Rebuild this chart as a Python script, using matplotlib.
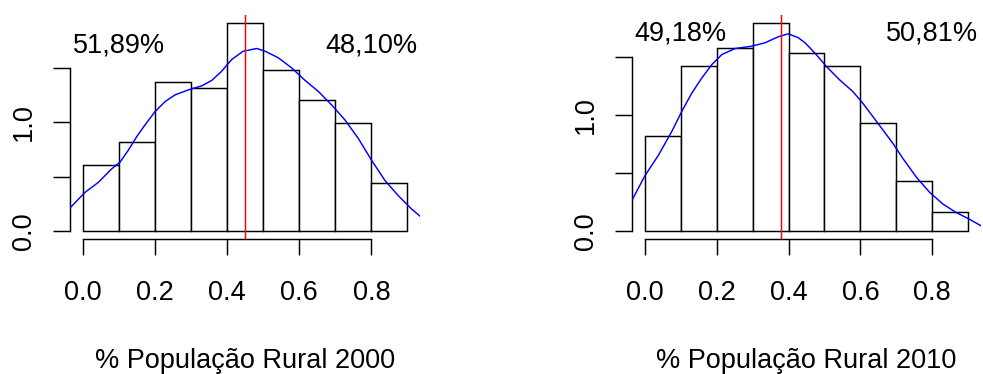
import matplotlib
matplotlib.use("Agg")
import matplotlib.pyplot as plt
import numpy as np

plt.rcParams['font.family'] = ['Liberation Sans', 'DejaVu Sans']

# ---- data ----
bin_edges = [0.0, 0.1, 0.2, 0.3, 0.4, 0.5, 0.6, 0.7, 0.8, 0.9]
dens_2000 = [0.608, 0.821, 1.370, 1.315, 1.910, 1.481, 1.204, 0.988, 0.441]
dens_2010 = [0.817, 1.423, 1.577, 1.794, 1.536, 1.423, 0.928, 0.432, 0.168]

kde_x_2000 = [-0.036, 0.005, 0.042, 0.079, 0.102, 0.125, 0.148, 0.171, 0.199, 0.227,
              0.255, 0.292, 0.329, 0.357, 0.384, 0.412, 0.444, 0.482, 0.505, 0.542,
              0.579, 0.616, 0.653, 0.690, 0.727, 0.764, 0.801, 0.838, 0.875, 0.912,
              0.940]
kde_y_2000 = [0.215, 0.355, 0.447, 0.571, 0.632, 0.741, 0.864, 0.972, 1.095, 1.188,
              1.250, 1.296, 1.333, 1.383, 1.466, 1.574, 1.651, 1.676, 1.651, 1.590,
              1.497, 1.383, 1.281, 1.157, 1.019, 0.849, 0.648, 0.463, 0.324, 0.201,
              0.123]

kde_x_2010 = [-0.037, 0.0, 0.037, 0.074, 0.102, 0.130, 0.158, 0.186, 0.214, 0.251,
              0.297, 0.334, 0.371, 0.399, 0.427, 0.446, 0.477, 0.505, 0.542, 0.579,
              0.607, 0.635, 0.663, 0.691, 0.719, 0.756, 0.793, 0.830, 0.867, 0.904,
              0.937]
kde_y_2010 = [0.261, 0.478, 0.652, 0.855, 1.029, 1.188, 1.319, 1.435, 1.522, 1.574,
              1.594, 1.623, 1.675, 1.701, 1.667, 1.623, 1.522, 1.420, 1.304, 1.203,
              1.101, 0.986, 0.870, 0.754, 0.623, 0.464, 0.333, 0.232, 0.159, 0.101,
              0.043]

median_2000 = 0.449
median_2010 = 0.378
left_pct = ["51,89%", "49,18%"]
right_pct = ["48,10%", "50,81%"]
xlabels = ["% População Rural 2000", "% População Rural 2010"]
xticks = [0.0, 0.2, 0.4, 0.6, 0.8]
xticklabels = ["0.0", "0.2", "0.4", "0.6", "0.8"]
yticks = [0.0, 0.5, 1.0, 1.5]
yticklabels = ["0.0", "", "1.0", ""]

FS = 19.5
LW = 1.05

fig = plt.figure(figsize=(9.83, 3.74), dpi=100)
ax1 = fig.add_axes([70.3 / 983, (374 - 239.3) / 374, 350 / 983, 224.6 / 374])
ax2 = fig.add_axes([632.1 / 983, (374 - 239.3) / 374, 348.9 / 983, 224.6 / 374])

panels = [
    (ax1, dens_2000, kde_x_2000, kde_y_2000, median_2000, 0),
    (ax2, dens_2010, kde_x_2010, kde_y_2010, median_2010, 1),
]

for ax, dens, kx, ky, med, i in panels:
    widths = np.diff(bin_edges)
    ax.bar(bin_edges[:-1], dens, width=widths, align='edge', color='white',
           edgecolor='black', linewidth=LW, zorder=2)
    ax.plot(kx, ky, color='#0000FF', linewidth=LW, zorder=3, clip_on=True,
            solid_joinstyle='round')
    ax.axvline(med, color='#FF0000', linewidth=LW, zorder=4)
    ymax = max(dens)
    ax.set_xlim(-0.036, 0.936)
    ax.set_ylim(-0.04 * ymax, 1.04 * ymax)
    ax.text(0.1, 1.7, left_pct[i], ha='center', va='center', fontsize=FS)
    ax.text(0.8, 1.7, right_pct[i], ha='center', va='center', fontsize=FS)

    for s in ['top', 'right']:
        ax.spines[s].set_visible(False)
    ax.spines['bottom'].set_bounds(0.0, 0.8)
    ax.spines['left'].set_bounds(0.0, 1.5)
    ax.spines['bottom'].set_linewidth(LW)
    ax.spines['left'].set_linewidth(LW)
    ax.set_xticks(xticks)
    ax.set_xticklabels(xticklabels, fontsize=FS)
    ax.set_yticks(yticks)
    ax.set_yticklabels(yticklabels, fontsize=FS, rotation=90, va='center')
    ax.tick_params(axis='x', direction='out', length=11.3, width=LW, pad=18)
    ax.tick_params(axis='y', direction='out', length=12, width=LW, pad=12)
    ax.set_xlabel(xlabels[i], fontsize=FS, labelpad=30)
    ax.patch.set_visible(False)

fig.savefig("out.png", dpi=100, facecolor='white')
